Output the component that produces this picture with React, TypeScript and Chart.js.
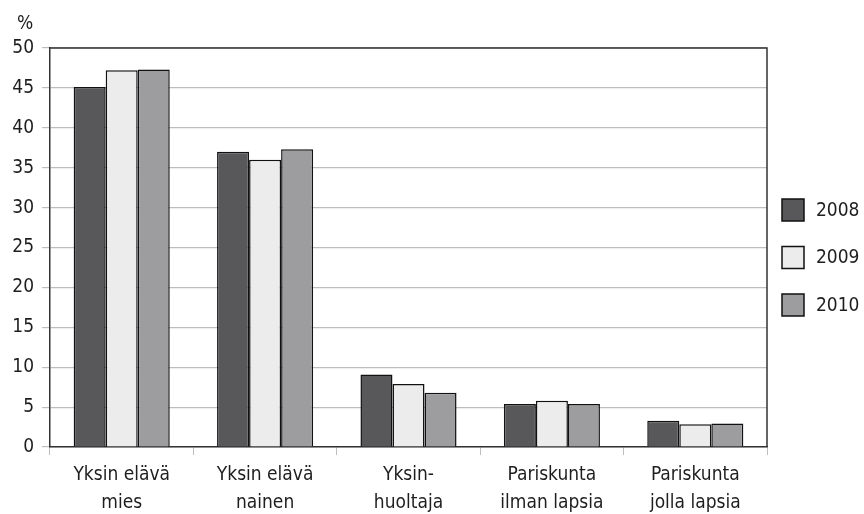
import React, { useEffect, useRef } from "react";
import { Chart, registerables } from "chart.js";

Chart.register(...registerables);

const categories: string[][] = [
  ["Yksin elävä", "mies"],
  ["Yksin elävä", "nainen"],
  ["Yksin-", "huoltaja"],
  ["Pariskunta", "ilman lapsia"],
  ["Pariskunta", "jolla lapsia"],
];
const seriesNames = ["2008", "2009", "2010"];
const values2008 = [45.1, 37.0, 9.1, 5.4, 3.3];
const values2009 = [47.2, 36.0, 7.9, 5.8, 2.85];
const values2010 = [47.3, 37.3, 6.8, 5.4, 2.95];
const seriesColors = ["#58585a", "#ebeceb", "#9d9d9f"];
const yUnit = "%";

const FONT = "'DejaVu Sans Condensed', 'DejaVu Sans', sans-serif";
const TEXT = "#1e1e1e";

const framePlugin = {
  id: "frame",
  afterDraw(chart: any) {
    const { ctx, chartArea } = chart;
    ctx.save();
    ctx.strokeStyle = "#333";
    ctx.lineWidth = 1.5;
    ctx.beginPath();
    ctx.moveTo(chartArea.left, chartArea.top);
    ctx.lineTo(chartArea.right, chartArea.top);
    ctx.lineTo(chartArea.right, chartArea.bottom);
    ctx.stroke();
    // unit label
    ctx.fillStyle = TEXT;
    ctx.font = `19px ${FONT}`;
    ctx.textAlign = "center";
    ctx.textBaseline = "middle";
    ctx.fillText(yUnit, 25, 24);
    // legend
    chart.data.datasets.forEach((ds: any, i: number) => {
      const cy = 210 + i * 47.5;
      const bx = 782;
      const size = 22;
      ctx.fillStyle = ds.backgroundColor;
      ctx.fillRect(bx, cy - size / 2, size, size);
      ctx.strokeStyle = "#111";
      ctx.lineWidth = 1.5;
      ctx.strokeRect(bx, cy - size / 2, size, size);
      ctx.fillStyle = TEXT;
      ctx.textAlign = "left";
      ctx.textBaseline = "middle";
      ctx.fillText(ds.label, 816, cy + 1);
    });
    ctx.restore();
  },
};

export default function App() {
  const ref = useRef<HTMLCanvasElement | null>(null);
  useEffect(() => {
    if (!ref.current) return;
    const seriesValues = [values2008, values2009, values2010];
    const chart = new Chart(ref.current, {
      type: "bar",
      data: {
        labels: categories,
        datasets: seriesNames.map((name, i) => ({
          label: name,
          data: seriesValues[i],
          backgroundColor: seriesColors[i],
          borderColor: "#111",
          borderWidth: 1.5,
          categoryPercentage: 0.67,
          barPercentage: 1,
        })),
      },
      options: {
        responsive: false,
        animation: false,
        layout: { padding: { top: 48, right: 97, left: 0, bottom: 0 } },
        plugins: {
          legend: { display: false },
          tooltip: { enabled: false },
        },
        scales: {
          x: {
            grid: {
              offset: true,
              drawOnChartArea: false,
              drawTicks: true,
              tickLength: 8,
              color: "#bdbdbd",
            },
            border: { display: true, color: "#333", width: 1.5 },
            ticks: {
              color: TEXT,
              font: { family: FONT, size: 19, lineHeight: 1.47 },
              padding: 6,
              maxRotation: 0,
              autoSkip: false,
            },
            afterFit(scale: any) {
              scale.height = 67;
            },
          },
          y: {
            min: 0,
            max: 50,
            ticks: {
              stepSize: 5,
              color: TEXT,
              font: { family: FONT, size: 19 },
              padding: 8,
            },
            grid: {
              color: "#bdbdbd",
              tickLength: 8,
              lineWidth: 1.2,
            },
            border: { display: true, color: "#333", width: 1.5 },
            afterFit(scale: any) {
              scale.width = 50;
            },
          },
        },
      },
      plugins: [framePlugin],
    });
    return () => chart.destroy();
  }, []);
  return (
    <div style={{ position: "absolute", left: 0, top: 0, width: 864, height: 514, background: "#fff" }}>
      <canvas ref={ref} width={864} height={514} />
    </div>
  );
}
